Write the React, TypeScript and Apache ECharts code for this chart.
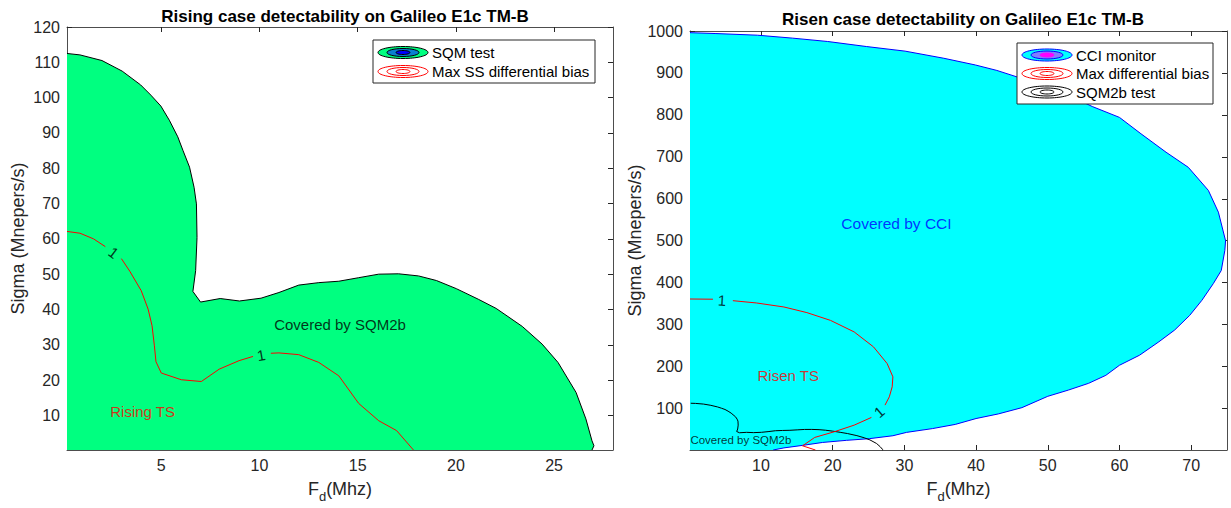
import React, { useEffect, useRef } from "react";
import * as echarts from "echarts";

const FONT = "'Liberation Sans', Arial, Helvetica, sans-serif";

// ---------- axes ----------
const leftXRange = [0.2, 28];
const leftYRange = [0.2, 120];
const rightXRange = [0.1, 75];
const rightYRange = [1, 1000];
const leftXTicks = [5, 10, 15, 20, 25];
const leftYTicks = [10, 20, 30, 40, 50, 60, 70, 80, 90, 100, 110, 120];
const rightXTicks = [10, 20, 30, 40, 50, 60, 70];
const rightYTicks = [100, 200, 300, 400, 500, 600, 700, 800, 900, 1000];

// ---------- SQM2b detectability boundary (same on both panels) ----------
const sqm2bBoundary = [
  [0.2, 112.5], [0.86, 112.1], [1.98, 110.5], [3.01, 107.5], [3.95, 103.6], [4.47, 100.7],
  [4.98, 97.6], [5.41, 93.6], [5.84, 88.9], [6.1, 85.1], [6.44, 80.3], [6.67, 74.6],
  [6.79, 69.9], [6.82, 60.4], [6.75, 51], [6.61, 45.1], [7.0, 42.1], [8.0, 43.1],
  [8.98, 42.4], [10.08, 43.2], [10.99, 44.8], [12.0, 46.9], [13.02, 47.6], [14.04, 48.0],
  [15.05, 49.0], [16.07, 50.0], [17.08, 50.1], [18.1, 49.5], [19.01, 48.2], [20.02, 45.9],
  [21.14, 42.9], [22.05, 40.3], [23.38, 35.2], [24.39, 30.2], [25.2, 25.0], [26.12, 16.5],
  [26.62, 9.0], [26.93, 2.8], [27.03, 1.4], [26.93, 0.2],
];

// ---------- Rising TS max SS differential bias contour (level 1) ----------
const risingTsSeg1 = [[0.2, 62.1], [0.86, 61.6], [1.55, 60.0], [2.15, 57.8]];
const risingTsSeg2 = [
  [2.97, 54.4], [3.4, 50.8], [3.98, 45.3], [4.33, 40.1], [4.53, 35.4], [4.65, 29.7],
  [4.73, 25.2], [5.0, 22.0], [6.02, 20.1], [7.04, 19.6], [7.95, 23.1], [8.96, 25.5], [9.67, 26.7],
];
const risingTsSeg3 = [
  [10.58, 27.6], [10.99, 27.7], [12.0, 27.2], [13.02, 25.0], [14.04, 21.2], [15.05, 13.4],
  [16.07, 8.5], [16.98, 5.7], [17.84, 0.2],
];
const risingLabelPoints = [[2.57, 56.1], [10.08, 27.1]];

// ---------- CCI monitor boundary ----------
const cciBoundary = [
  [0.1, 996], [3.6, 994], [9.5, 990], [14.4, 983], [19.3, 975], [24.7, 963], [30.1, 952],
  [35.5, 935], [39.9, 919], [42.9, 906], [45.8, 890], [50, 866], [53, 846], [56.2, 820],
  [60, 794], [63, 755], [66.5, 711], [69.6, 675], [72.4, 620], [73.8, 568], [74.8, 500],
  [74.7, 477], [74.2, 429], [73.1, 398], [71.5, 358], [69.8, 322], [67.7, 287], [65.5, 259],
  [62.8, 227], [60, 203], [58.1, 179], [55.7, 160], [52.9, 144], [50, 129], [46.4, 102],
  [43.1, 87], [40, 76], [37.1, 62], [33.9, 52], [30.3, 43], [28.4, 35], [25.1, 28],
  [21.9, 24], [18.6, 19], [15.8, 12], [13.2, 6], [11.7, 1],
];

// ---------- Risen TS max differential bias contour (level 1) ----------
const risenTsSeg1 = [[0.1, 361], [3.3, 360.5]];
const risenTsSeg2 = [
  [6.08, 357], [9.35, 351.6], [13.2, 342], [16.4, 328.6], [19.7, 310], [23.0, 282.5],
  [25.7, 246.8], [27.6, 207], [28.4, 175.4], [28.3, 151.6], [27.9, 127.8], [27.3, 108],
];
const risenTsSeg3 = [[25.4, 78.6], [23.0, 60.3], [20.2, 44.4], [17.5, 31], [15.8, 11], [17.6, 1]];
const risenLabelPoints = [[4.56, 358], [26.5, 92]];

// ---------- annotations ----------
const leftNoteTexts = ["Covered by SQM2b", "Rising TS"];
const leftNotePoints = [[14.1, 35.8], [4.05, 11.2]];
const rightNoteTexts = ["Covered by CCI", "Risen TS", "Covered by SQM2b"];
const rightNotePoints = [[28.9, 540], [13.8, 179], [7.2, 25]];

const titles = [
  "Rising case detectability on Galileo E1c TM-B",
  "Risen case detectability on Galileo E1c TM-B",
];
const leftLegendLabels = ["SQM test", "Max SS differential bias"];
const rightLegendLabels = ["CCI monitor", "Max differential bias", "SQM2b test"];

const AXIS_COLOR = "#262626";

function mkAxis(gridIndex: number, position: string, range: number[], ticks: number[], main: boolean, extra: any = {}) {
  return {
    type: "value",
    gridIndex,
    position,
    min: range[0],
    max: range[1],
    axisLine: { show: true, onZero: false, lineStyle: { color: "#4d4d4d", width: 1 } },
    axisTick: { show: true, inside: true, length: 5, customValues: ticks, lineStyle: { color: AXIS_COLOR, width: 1 } },
    axisLabel: {
      show: main,
      customValues: ticks,
      formatter: (v: number) => String(v),
      color: AXIS_COLOR,
      fontSize: 16,
      fontFamily: FONT,
      margin: 7,
    },
    splitLine: { show: false },
    ...extra,
  };
}

const xName = "{a|F}{s|d}{a|(Mhz)}";
const xNameStyle = {
  color: AXIS_COLOR,
  fontFamily: FONT,
  rich: {
    a: { fontSize: 18, fontFamily: FONT, color: AXIS_COLOR, verticalAlign: "top", lineHeight: 22 },
    s: { fontSize: 13, fontFamily: FONT, color: AXIS_COLOR, verticalAlign: "top", lineHeight: 22, padding: [10, 0, 0, 0] },
  },
};
const yNameStyle = { color: AXIS_COLOR, fontFamily: FONT, fontSize: 18 };

function polygonSeries(axisIndex: number, points: number[][], fill: string) {
  return {
    type: "custom",
    xAxisIndex: axisIndex,
    yAxisIndex: axisIndex,
    silent: true,
    z: 1,
    data: [points[0]],
    renderItem: (_p: any, api: any) => ({
      type: "polygon",
      shape: { points: points.map((p) => api.coord(p)) },
      style: { fill, stroke: "none" },
    }),
  };
}

function lineSeries(axisIndex: number, data: number[][], color: string, z = 3) {
  return {
    type: "line",
    xAxisIndex: axisIndex,
    yAxisIndex: axisIndex,
    data,
    showSymbol: false,
    symbol: "none",
    silent: true,
    z,
    lineStyle: { color, width: 1 },
  };
}

function textSeries(axisIndex: number, point: number[], text: string, color: string, fontSize: number) {
  return {
    type: "scatter",
    xAxisIndex: axisIndex,
    yAxisIndex: axisIndex,
    symbolSize: 0,
    silent: true,
    z: 6,
    data: [{ value: point, name: text }],
    label: { show: true, position: "inside", formatter: "{b}", color, fontSize, fontFamily: FONT },
  };
}

function contourLabelSeries(axisIndex: number, points: number[][], rotations: number[]) {
  return {
    type: "scatter",
    xAxisIndex: axisIndex,
    yAxisIndex: axisIndex,
    symbolSize: 0,
    silent: true,
    z: 6,
    data: points.map((p, i) => ({ value: p, label: { rotate: rotations[i] } })),
    label: { show: true, position: "inside", formatter: "1", color: "#000", fontSize: 15, fontFamily: FONT },
  };
}

function legendGraphic(x: number, y: number, w: number, h: number, labels: string[], icons: any[][], rowY: number[], iconCx: number, textX: number) {
  const Z = 200;
  const children: any[] = [
    { type: "rect", z: Z, shape: { x, y, width: w, height: h }, style: { fill: "#fff", stroke: "#262626", lineWidth: 1 } },
  ];
  labels.forEach((lab, i) => {
    const cy = rowY[i];
    icons[i].forEach((e: any, k: number) => {
      children.push({
        type: "ellipse",
        z: Z + 1 + k,
        shape: { cx: iconCx, cy, rx: e.rx, ry: e.ry },
        style: { fill: e.fill, stroke: e.stroke, lineWidth: 1 },
      });
    });
    children.push({
      type: "text",
      z: Z + 5,
      x: textX,
      y: cy,
      style: { text: lab, fill: "#000", font: `15px ${FONT}`, textVerticalAlign: "middle", textAlign: "left" },
    });
  });
  return { type: "group", children };
}

export default function App() {
  const ref = useRef<HTMLDivElement>(null);
  useEffect(() => {
    if (!ref.current) return;
    const chart = echarts.init(ref.current, null, { renderer: "svg" });

    const leftPoly = [...sqm2bBoundary, [leftXRange[0], leftYRange[0]]];
    const rightPoly = [...cciBoundary, [cciBoundary[cciBoundary.length - 1][0], rightYRange[0]], [rightXRange[0], rightYRange[0]]];

    const option: any = {
      animation: false,
      backgroundColor: "#fff",
      title: [
        { text: titles[0], left: 340, top: 3, textAlign: "center", textStyle: { fontSize: 17, fontWeight: "bold", color: "#000", fontFamily: FONT } },
        { text: titles[1], left: 958, top: 6, textAlign: "center", textStyle: { fontSize: 17, fontWeight: "bold", color: "#000", fontFamily: FONT } },
      ],
      grid: [
        { left: 67, top: 27, width: 546, height: 423 },
        { left: 690, top: 31, width: 537, height: 419 },
      ],
      xAxis: [
        mkAxis(0, "bottom", leftXRange, leftXTicks, true, { name: xName, nameLocation: "middle", nameGap: 30, nameTextStyle: xNameStyle }),
        mkAxis(0, "top", leftXRange, leftXTicks, false),
        mkAxis(1, "bottom", rightXRange, rightXTicks, true, { name: xName, nameLocation: "middle", nameGap: 30, nameTextStyle: xNameStyle }),
        mkAxis(1, "top", rightXRange, rightXTicks, false),
      ],
      yAxis: [
        mkAxis(0, "left", leftYRange, leftYTicks, true, { name: "Sigma (Mnepers/s)", nameLocation: "middle", nameGap: 40, nameTextStyle: yNameStyle }),
        mkAxis(0, "right", leftYRange, leftYTicks, false),
        mkAxis(1, "left", rightYRange, rightYTicks, true, { name: "Sigma (Mnepers/s)", nameLocation: "middle", nameGap: 45, nameTextStyle: yNameStyle }),
        mkAxis(1, "right", rightYRange, rightYTicks, false),
      ],
      series: [
        // left panel
        polygonSeries(0, leftPoly, "#00FF80"),
        lineSeries(0, sqm2bBoundary, "#000000"),
        lineSeries(0, risingTsSeg1, "#FF0000", 4),
        lineSeries(0, risingTsSeg2, "#FF0000", 4),
        lineSeries(0, risingTsSeg3, "#FF0000", 4),
        contourLabelSeries(0, risingLabelPoints, [-37, 10]),
        textSeries(0, leftNotePoints[0], leftNoteTexts[0], "#000000", 15),
        textSeries(0, leftNotePoints[1], leftNoteTexts[1], "#FF0000", 15),
        // right panel
        polygonSeries(2, rightPoly, "#00FFFF"),
        lineSeries(2, cciBoundary, "#0000FF"),
        lineSeries(2, sqm2bBoundary, "#000000"),
        lineSeries(2, risenTsSeg1, "#FF0000", 4),
        lineSeries(2, risenTsSeg2, "#FF0000", 4),
        lineSeries(2, risenTsSeg3, "#FF0000", 4),
        contourLabelSeries(2, risenLabelPoints, [-3, 40]),
        textSeries(2, rightNotePoints[0], rightNoteTexts[0], "#0000FF", 15.5),
        textSeries(2, rightNotePoints[1], rightNoteTexts[1], "#FF0000", 15),
        textSeries(2, rightNotePoints[2], rightNoteTexts[2], "#000000", 11.5),
      ],
      graphic: [
        legendGraphic(373, 40, 222, 43, leftLegendLabels, [
          [
            { rx: 25, ry: 6, fill: "#00FF80", stroke: "#000" },
            { rx: 16, ry: 4, fill: "#0A7FD0", stroke: "#000" },
            { rx: 7, ry: 2, fill: "#0000FF", stroke: "#000" },
          ],
          [
            { rx: 25, ry: 6, fill: "none", stroke: "#FF0000" },
            { rx: 16, ry: 4, fill: "none", stroke: "#FF0000" },
            { rx: 7, ry: 2, fill: "none", stroke: "#FF0000" },
          ],
        ], [52.5, 71.5], 403, 432),
        legendGraphic(1017, 43, 196, 61, rightLegendLabels, [
          [
            { rx: 25, ry: 6, fill: "#00FFFF", stroke: "#0000FF" },
            { rx: 16, ry: 4, fill: "#7F7FFF", stroke: "#0000FF" },
            { rx: 7, ry: 2, fill: "#FF00FF", stroke: "#FF00FF" },
          ],
          [
            { rx: 25, ry: 6, fill: "none", stroke: "#FF0000" },
            { rx: 16, ry: 4, fill: "none", stroke: "#FF0000" },
            { rx: 7, ry: 2, fill: "none", stroke: "#FF0000" },
          ],
          [
            { rx: 25, ry: 6, fill: "none", stroke: "#000" },
            { rx: 16, ry: 4, fill: "none", stroke: "#000" },
            { rx: 7, ry: 2, fill: "none", stroke: "#000" },
          ],
        ], [55, 73.5, 92], 1047, 1076),
      ],
    };
    chart.setOption(option);
    return () => chart.dispose();
  }, []);
  return <div ref={ref} style={{ position: "fixed", left: 0, top: 0, width: 1231, height: 508 }} />;
}
